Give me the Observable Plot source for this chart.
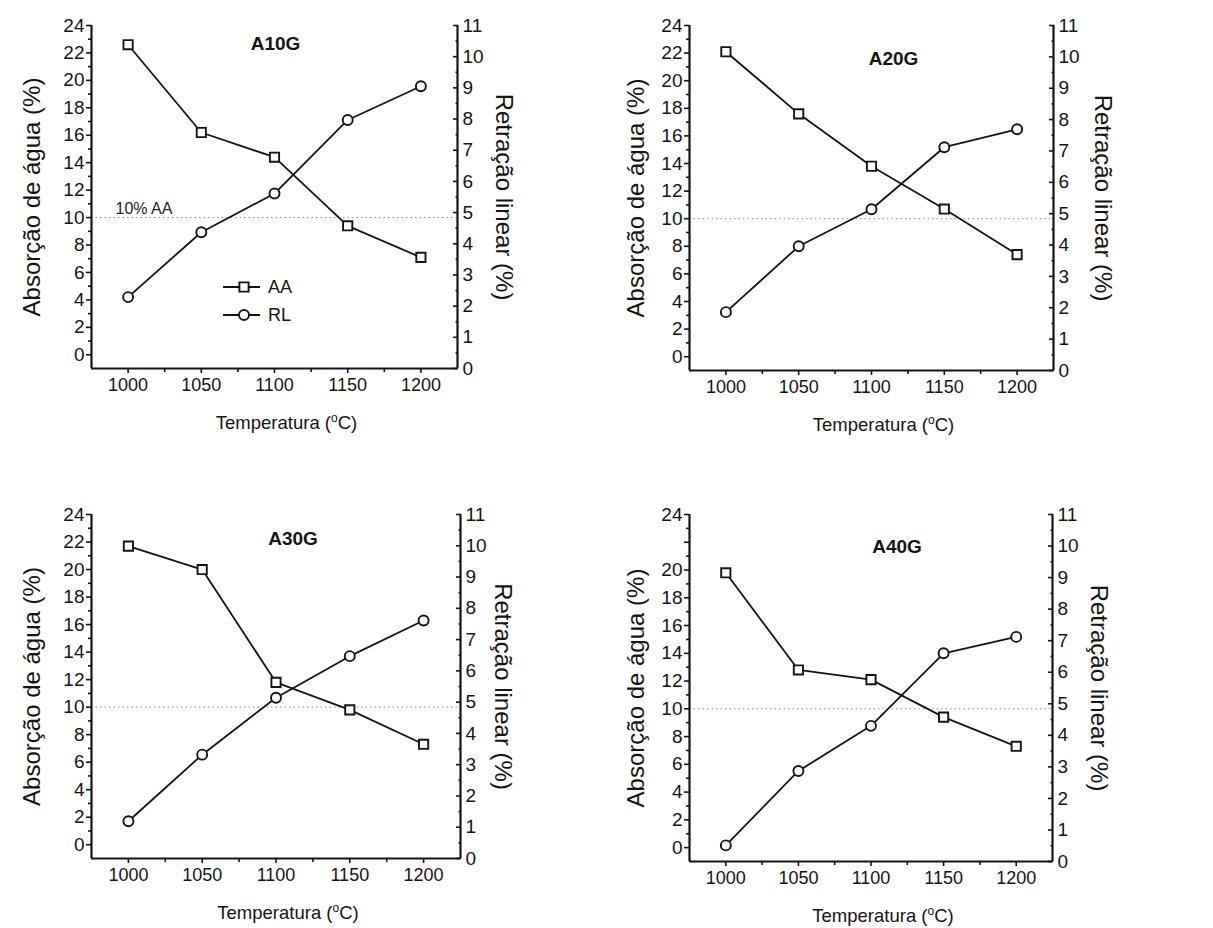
<!DOCTYPE html>
<html>
<head>
<meta charset="utf-8">
<script src="https://cdn.jsdelivr.net/npm/d3@7"></script>
<script src="https://cdn.jsdelivr.net/npm/@observablehq/plot@0.6"></script>
<style>
  html, body { margin: 0; padding: 0; background: #fff; overflow: hidden; }
  #fig { position: relative; width: 1213px; height: 928px; font-family: "Liberation Sans", Arial, sans-serif; }
  .panel { position: absolute; width: 600px; height: 438px; }
  .panel svg { position: absolute; left: 0; top: 0; }
</style>
</head>
<body>
<div id="fig"></div>
<script>
// Firing temperatures (°C)
const temperatures = [1000, 1050, 1100, 1150, 1200];

// Water absorption AA (%) – left axis
const aaA10G = [22.6, 16.2, 14.4, 9.4, 7.1];
const aaA20G = [22.1, 17.6, 13.8, 10.7, 7.4];
const aaA30G = [21.7, 20.0, 11.8, 9.8, 7.3];
const aaA40G = [19.8, 12.8, 12.1, 9.4, 7.3];

// Linear shrinkage RL (%) – right axis
const rlA10G = [2.29, 4.37, 5.61, 7.97, 9.05];
const rlA20G = [1.86, 3.96, 5.14, 7.12, 7.69];
const rlA30G = [1.19, 3.32, 5.14, 6.47, 7.61];
const rlA40G = [0.51, 2.87, 4.30, 6.60, 7.12];

// 10 % water absorption reference level
const aaLimit = [10];
const aaLimitLabel = "10% AA";

// Axis domains and ticks
const xDomain = [975, 1225];
const xTicks = [1000, 1050, 1100, 1150, 1200];
const xMinorTicks = [1025, 1075, 1125, 1175];
const aaDomain = [-1, 24];
const aaTicks = [0, 2, 4, 6, 8, 10, 12, 14, 16, 18, 20, 22, 24];
const aaMinorTicks = [1, 3, 5, 7, 9, 11, 13, 15, 17, 19, 21, 23];
const rlDomain = [0, 11];
const rlTicks = [0, 1, 2, 3, 4, 5, 6, 7, 8, 9, 10, 11];
const rlMinorTicks = [0.5, 1.5, 2.5, 3.5, 4.5, 5.5, 6.5, 7.5, 8.5, 9.5, 10.5];

// Text
const xTitle = "Temperatura (°C)";
const aaTitle = "Absorção de água (%)";
const rlTitle = "Retração linear (%)";
const legendLabels = ["AA", "RL"];

// Panel layout: position on the page and frame edges inside each panel
const panels = [
  {name: "A10G", aa: aaA10G, rl: rlA10G, left: 0,   top: 0,   L: 91, R: 457, T: 25, B: 368, titleDx: 1,  titleDy: 18, aaTitleDx: -59, rlTitleDx: 46, hidden: [], legend: true,  limitLabel: true},
  {name: "A20G", aa: aaA20G, rl: rlA20G, left: 599, top: 0,   L: 90, R: 454, T: 25, B: 370, titleDx: 22, titleDy: 33, aaTitleDx: -53, rlTitleDx: 49, hidden: [], legend: false, limitLabel: false},
  {name: "A30G", aa: aaA30G, rl: rlA30G, left: 0,   top: 489, L: 91, R: 460, T: 25, B: 369, titleDx: 17, titleDy: 24, aaTitleDx: -59, rlTitleDx: 42, hidden: [], legend: false, limitLabel: false},
  {name: "A40G", aa: aaA40G, rl: rlA40G, left: 599, top: 489, L: 90, R: 453, T: 25, B: 372, titleDx: 26, titleDy: 32, aaTitleDx: -53, rlTitleDx: 46, hidden: [22], legend: false, limitLabel: false}
];

const W = 600, H = 438;
const font = '"Liberation Sans", Arial, sans-serif';
const ink = "#141414";
const lineW = 1.8, markW = 1.9;

function superscriptDegree(svg) {
  d3.select(svg).selectAll("text").each(function () {
    if (this.textContent === xTitle) {
      const t = d3.select(this).text("");
      t.append("tspan").text("Temperatura (");
      t.append("tspan").attr("dy", -7).attr("font-size", 12).text("o");
      t.append("tspan").attr("dy", 7).text("C)");
    }
  });
}

const fig = document.getElementById("fig");

for (const p of panels) {
  const div = document.createElement("div");
  div.className = "panel";
  div.style.left = p.left + "px";
  div.style.top = p.top + "px";
  fig.appendChild(div);

  const rows = temperatures.map((t, i) => ({t, aa: p.aa[i], rl: p.rl[i]}));
  const common = {
    width: W, height: H,
    marginLeft: p.L, marginRight: W - p.R, marginTop: p.T, marginBottom: H - p.B,
    style: {background: "transparent", fontFamily: font, color: ink, overflow: "visible"}
  };

  // Left scale: water absorption, x axis, frame lines and titles
  const base = Plot.plot({
    ...common,
    x: {domain: xDomain},
    y: {domain: aaDomain},
    marks: [
      Plot.ruleY(aaLimit, {stroke: "#8a8a8a", strokeWidth: 1, strokeDasharray: "1.5,3"}),
      p.limitLabel ? Plot.text(aaLimit, {y: d => d, text: () => aaLimitLabel, frameAnchor: "left", dx: 24, dy: -9, textAnchor: "start", fontSize: 16, fill: "#222"}) : null,
      Plot.ruleX([xDomain[0]], {stroke: ink, strokeWidth: 2.2}),
      Plot.ruleY([aaDomain[0]], {stroke: ink, strokeWidth: 2.2}),
      Plot.axisY(aaTicks, {anchor: "left", tickSize: 5, tickPadding: 2, strokeWidth: 1.6, fontSize: 19, label: null,
        tickFormat: d => p.hidden.includes(d) ? "" : String(d)}),
      Plot.axisY(aaMinorTicks, {anchor: "left", tickSize: 3, strokeWidth: 1.6, label: null, tickFormat: () => ""}),
      Plot.axisX(xTicks, {anchor: "bottom", tickSize: 5, tickPadding: 5, strokeWidth: 1.6, fontSize: 18, label: null, tickFormat: d => String(d)}),
      Plot.axisX(xMinorTicks, {anchor: "bottom", tickSize: 4, strokeWidth: 1.6, label: null, tickFormat: () => ""}),
      Plot.line(rows, {x: "t", y: "aa", stroke: ink, strokeWidth: lineW}),
      Plot.dot(rows, {x: "t", y: "aa", symbol: "square", r: 5.2, fill: "white", stroke: ink, strokeWidth: markW}),
      Plot.text([p.name], {text: d => d, frameAnchor: "top", dx: p.titleDx, dy: p.titleDy, lineAnchor: "middle", fontSize: 19, fontWeight: "bold"}),
      Plot.text([aaTitle], {text: d => d, frameAnchor: "left", textAnchor: "middle", dx: p.aaTitleDx, rotate: -90, lineAnchor: "middle", fontSize: 24}),
      Plot.text([xTitle], {text: d => d, frameAnchor: "bottom", textAnchor: "middle", dx: 12, dy: 55, lineAnchor: "middle", fontSize: 18.5})
    ]
  });
  superscriptDegree(base);
  div.appendChild(base);

  // Right scale: linear shrinkage on its own axis, same frame
  const over = Plot.plot({
    ...common,
    x: {domain: xDomain, axis: null},
    y: {domain: rlDomain},
    marks: [
      Plot.ruleX([xDomain[1]], {stroke: ink, strokeWidth: 2.2}),
      Plot.axisY(rlTicks, {anchor: "right", tickSize: -5, strokeWidth: 1.6, label: null, tickFormat: () => ""}),
      Plot.axisY(rlMinorTicks, {anchor: "right", tickSize: -2.5, strokeWidth: 1.6, label: null, tickFormat: () => ""}),
      Plot.axisY(rlTicks, {anchor: "right", tickSize: 0, tickPadding: 5, fontSize: 19, label: null, tickFormat: d => String(d)}),
      Plot.line(rows, {x: "t", y: "rl", stroke: ink, strokeWidth: lineW}),
      Plot.dot(rows, {x: "t", y: "rl", symbol: "circle", r: 5, fill: "white", stroke: ink, strokeWidth: markW}),
      Plot.text([rlTitle], {text: d => d, frameAnchor: "right", textAnchor: "middle", dx: p.rlTitleDx, rotate: 90, lineAnchor: "middle", fontSize: 24})
    ]
  });
  div.appendChild(over);

  // Series legend inside the first panel
  if (p.legend) {
    const lg = d3.create("svg").attr("width", 90).attr("height", 50)
      .style("left", "218px").style("top", "272px").style("overflow", "visible");
    const sym = [d3.symbolSquare, d3.symbolCircle];
    legendLabels.forEach((lab, i) => {
      const g = lg.append("g").attr("transform", `translate(0,${15 + i * 28})`);
      g.append("line").attr("x1", 5).attr("x2", 42).attr("stroke", ink).attr("stroke-width", lineW);
      g.append("path").attr("transform", "translate(26,0)")
        .attr("d", d3.symbol(sym[i], Math.PI * (i === 0 ? 5.2 * 5.2 : 25))())
        .attr("fill", "white").attr("stroke", ink).attr("stroke-width", markW);
      g.append("text").attr("x", 50).attr("dy", "0.35em").attr("font-size", 18)
        .attr("font-family", font).attr("fill", ink).text(lab);
    });
    div.appendChild(lg.node());
  }
}
</script>
</body>
</html>
